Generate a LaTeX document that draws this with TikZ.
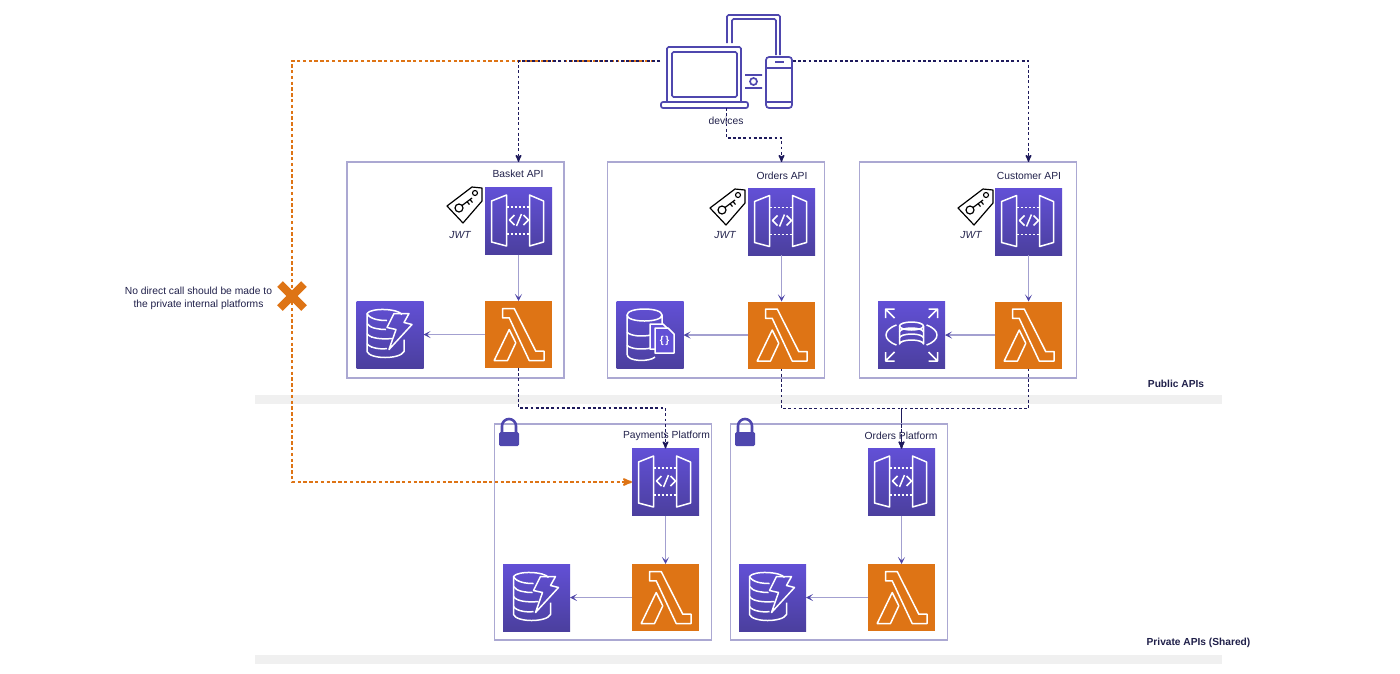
\documentclass[tikz,border=0pt]{standalone}
\usepackage{fontspec}
\setmainfont{Liberation Sans}
\usetikzlibrary{arrows, arrows.meta, shapes.misc}
\definecolor{tilepurple}{HTML}{6250D6}
\definecolor{tilepurpledark}{HTML}{4B3F9E}
\definecolor{awsorange}{HTML}{DE7415}
\definecolor{framecol}{HTML}{ABA8D2}
\definecolor{linkcol}{HTML}{A3A0D0}
\definecolor{tipcol}{HTML}{4F46A8}
\definecolor{devicecol}{HTML}{4F47AE}
\definecolor{darkdash}{HTML}{1E1A5C}
\definecolor{labelcol}{HTML}{20204A}
\definecolor{bandcol}{HTML}{F0F0F0}
\tikzset{
  every node/.style={font=\fontsize{10.3}{13}\selectfont, text=labelcol},
  panel/.style={draw=framecol, line width=1.4pt, minimum width=217pt, minimum height=216pt, inner sep=0pt, outer sep=0pt},
  purpletile/.style={top color=tilepurple, bottom color=tilepurpledark, minimum size=67pt, inner sep=0pt, outer sep=0pt},
  lambdatile/.style={fill=awsorange, minimum size=67pt, inner sep=0pt, outer sep=0pt},
  thinlink/.style={draw=linkcol, line width=1.2pt, -{Stealth[color=tipcol, length=7pt, width=7pt, inset=3.5pt]}},
  callink/.style={draw=darkdash, line width=1.4pt, dash pattern=on 2.8pt off 2.4pt, ->, >=stealth'},
  blocklink/.style={draw=awsorange, line width=2pt, dash pattern=on 3.4pt off 2.4pt, ->, >=stealth'},
  icon/.style={draw=white, line width=1.5pt, line join=round},
  deviceline/.style={draw=devicecol, line width=1.7pt},
  gatewayicon/.pic={
    \draw[icon] (-27,-20) -- (-12,-26) -- (-12,25) -- (-27,21) -- cycle;
    \draw[icon] (11,-26) -- (25,-20) -- (25,21) -- (11,25) -- cycle;
    \draw[icon, dash pattern=on 2.5pt off 1.5pt] (-12,-14) -- (11,-14) (-12,13) -- (11,13);
    \draw[icon] (-4,-6) -- (-9,-1) -- (-4,4) (5,-6) -- (10,-1) -- (5,4) (-2,5) -- (3,-7);
  },
  lambdaicon/.pic={
    \draw[icon] (-16,-26) -- (-4.3,-26) -- (17.3,16.7) -- (25.7,16.7) -- (25.7,26) -- (10.7,26) -- (-9.3,-16.7) -- (-16,-16.7) -- cycle;
    \draw[icon] (-24.3,26) -- (-9.3,-5) -- (-2.7,8.3) -- (-11,26) -- cycle;
  },
  dynamoicon/.pic={
    \draw[icon] (12,-20) .. controls (8,-26) and (-19,-27) .. (-23,-21) -- (-23,17) .. controls (-20,25) and (10,25) .. (14,17) -- (14,5);
    \draw[icon] (-23,-21) .. controls (-20,-15) and (-10,-14) .. (-3,-14);
    \draw[icon] (-23,-11) .. controls (-20,-6) and (-10,-5) .. (-4,-5);
    \draw[icon] (-23,-1) .. controls (-20,4) and (-8,5) .. (2,4);
    \draw[icon] (-23,9) .. controls (-20,14) and (-8,15) .. (-3,14);
    \draw[icon] (4,-21) -- (19,-21) -- (14,-12) -- (22,-10) -- (-1,15) -- (6,-5) -- (-3,-7) -- cycle;
    \foreach \ly in {-7,3,13} \draw[icon] (-19,\ly) -- (-17,\ly);
  },
  docicon/.pic={
    \draw[icon] (12,-20) .. controls (12,-28) and (-23,-28) .. (-23,-20) -- (-23,19) .. controls (-23,27) and (0,27) .. (5,22);
    \draw[icon] (-23,-20) .. controls (-23,-12) and (12,-12) .. (12,-20) -- (12,-11);
    \draw[icon] (-23,-3) .. controls (-20,1) and (-8,2) .. (1,0);
    \draw[icon] (-23,10) .. controls (-20,14) and (-8,15) .. (1,13);
    \draw[icon, fill=tilepurple] (0,-11) -- (13,-11) -- (19,-5) -- (19,14) -- (0,14) -- cycle;
    \draw[icon, fill=tilepurple] (5,-7) -- (18,-7) -- (24,-1) -- (24,18) -- (5,18) -- cycle;
    \node[text=white, inner sep=0pt, font=\bfseries\fontsize{10}{10}\selectfont] at (14.5,6) {\{\,\}};
  },
  rdsicon/.pic={
    \draw[icon] (0,-9) ellipse (12 and 4);
    \draw[icon] (-12,-9) -- (-12,9) arc[start angle=180, end angle=360, x radius=12, y radius=4] -- (12,-9);
    \draw[icon] (-12,-3) arc[start angle=180, end angle=360, x radius=12, y radius=4];
    \draw[icon] (-12,3) arc[start angle=180, end angle=360, x radius=12, y radius=4];
    \draw[icon] (-15,-10) .. controls (-29,-5) and (-29,5) .. (-15,10);
    \draw[icon] (15,-10) .. controls (29,-5) and (29,5) .. (15,10);
    \foreach \sx/\sy in {-1/-1, 1/-1, -1/1, 1/1}
      \draw[icon] (\sx*17,\sy*17) -- (\sx*26,\sy*26) (\sx*26,\sy*17) -- (\sx*26,\sy*26) -- (\sx*17,\sy*26);
  },
  jwticon/.pic={
    \draw[black, line width=1.2pt, line join=round, fill=white] (-17,2) -- (8,-17) -- (18,-16) -- (18,-3) -- (-1,19) -- cycle;
    \draw[black, line width=1.1pt] (11,-11) circle (2.5);
    \draw[black, line width=1.2pt] (-5,4) circle (4);
    \draw[black, line width=1.2pt] (-2,1.5) -- (8,-6) (3,-2.3) -- (5.5,0.5) (6,-4.5) -- (8.5,-1.5);
  },
  lockicon/.pic={
    \draw[devicecol, line width=2.6pt] (-7,0) -- (-7,-7) arc[start angle=180, end angle=360, radius=7] -- (7,0);
    \fill[devicecol, rounded corners=1.5pt] (-10,-1) rectangle (10,13);
  },
}
\begin{document}
\begin{tikzpicture}[x=1pt, y=-1pt, node distance=113.5pt]
\useasboundingbox (0,0) rectangle (1400,673);
% bands
\fill[bandcol] (255,395) rectangle (1222,404);
\fill[bandcol] (255,655) rectangle (1222,664);
\node[font=\bfseries\fontsize{10.2}{12}\selectfont] (publiclabel) at (1176,384) {Public APIs};
\node[font=\bfseries\fontsize{10.2}{12}\selectfont] (privatelabel) at (1198.5,643) {Private APIs (Shared)};
% panels
\node[panel] (baspanel) at (455.5,270) {};
\node[panel] (ordpanel) at (716,270) {};
\node[panel] (cuspanel) at (968,270) {};
\node[panel] (paypanel) at (603,532) {};
\node[panel] (oppanel) at (839,532) {};
\node (bastitle) at (518,174) {Basket API};
\node (ordtitle) at (782,176) {Orders API};
\node (custitle) at (1029,176) {Customer API};
\node (paytitle) at (666.5,436) {Payments Platform};
\node (optitle) at (901,436) {Orders Platform};
% tiles
\node[purpletile] (basgw) at (518.5,221) {};
\node[lambdatile] (baslam) [below of=basgw] {};
\node[purpletile] (basdb) [left of=baslam, node distance=128.5pt] {};
\node[purpletile] (ordgw) at (781.5,221.5) {};
\node[lambdatile] (ordlam) [below of=ordgw] {};
\node[purpletile] (orddb) [left of=ordlam, node distance=131.5pt] {};
\node[purpletile] (cusgw) at (1028.5,221.5) {};
\node[lambdatile] (cuslam) [below of=cusgw] {};
\node[purpletile] (cusdb) [left of=cuslam, node distance=117pt] {};
\node[purpletile] (paygw) at (665.5,482) {};
\node[lambdatile] (paylam) [below of=paygw, node distance=115.5pt] {};
\node[purpletile] (paydb) [left of=paylam, node distance=129pt] {};
\node[purpletile] (opgw) at (901.5,482) {};
\node[lambdatile] (oplam) [below of=opgw, node distance=115.5pt] {};
\node[purpletile] (opdb) [left of=oplam, node distance=129pt] {};
\foreach \n in {basgw,ordgw,cusgw,paygw,opgw} \pic at (\n) {gatewayicon};
\foreach \n in {baslam,ordlam,cuslam,paylam,oplam} \pic at (\n) {lambdaicon};
\foreach \n in {basdb,paydb,opdb} \pic at (\n) {dynamoicon};
\pic at (orddb) {docicon};
\pic at (cusdb) {rdsicon};
% jwt tags and locks
\pic at (464,204) {jwticon};
\pic at (727,206) {jwticon};
\pic at (975,206) {jwticon};
\node[font=\itshape\fontsize{10.3}{12}\selectfont] (basjwt) at (460,235.5) {JWT};
\node[font=\itshape\fontsize{10.3}{12}\selectfont] (ordjwt) at (725,235.5) {JWT};
\node[font=\itshape\fontsize{10.3}{12}\selectfont] (cusjwt) at (971,235.5) {JWT};
\pic at (509,433) {lockicon};
\pic at (745,433) {lockicon};
% devices
\node[minimum width=133pt, minimum height=94pt, inner sep=0pt, outer sep=0pt] (devices) at (726.5,61) {};
\node (deviceslabel) at (726,121) {devices};
\draw[deviceline, rounded corners=1.5pt] (727,43) -- (727,15) -- (780,15) -- (780,55) (732,43) -- (732,19) -- (776,19) -- (776,55);
\draw[deviceline, rounded corners=1.5pt] (667,102) -- (667,47) -- (741,47) -- (741,102);
\draw[deviceline, rounded corners=1.5pt] (672,52) rectangle (737,97);
\draw[deviceline, rounded corners=2pt] (661,102) rectangle (748,108);
\draw[deviceline, rounded corners=3pt] (766,57) rectangle (792,108);
\draw[deviceline] (766,68) -- (792,68) (766,102) -- (792,102) (775,62) -- (784,62);
\draw[deviceline] (745,75) -- (762,75) (745,88) -- (762,88) (753.5,81.5) circle (3.5);
% stop mark
\node[cross out, draw=awsorange, line width=8pt, minimum size=16pt, inner sep=0pt] (stopmark) at (292,296) {};
\node[align=center] (stoplabel) at (198.5,298.5) {No direct call should be made to\\the private internal platforms};
% links
\path[thinlink] (basgw) edge (baslam) (baslam) edge (basdb);
\path[thinlink] (ordgw) edge (ordlam) (ordlam) edge (orddb);
\path[thinlink] (cusgw) edge (cuslam) (cuslam) edge (cusdb);
\path[thinlink] (paygw) edge (paylam) (paylam) edge (paydb);
\path[thinlink] (opgw) edge (oplam) (oplam) edge (opdb);
\draw[blocklink] (devices.west) -| (stopmark.center) |- (paygw.west);
\draw[callink] (devices.west) -| (basgw |- baspanel.north);
\draw[callink] (devices.east) -| (cusgw |- cuspanel.north);
\draw[callink] (devices.south) -- ++(0,30) -| (ordgw |- ordpanel.north);
\draw[callink] (baslam.south) -- ++(0,40) -| (paygw.north);
\draw[callink] (ordlam.south) -- ++(0,40) -| (opgw.north);
\draw[callink] (cuslam.south) -- ++(0,40) -| (opgw.north);
\end{tikzpicture}
\end{document}
